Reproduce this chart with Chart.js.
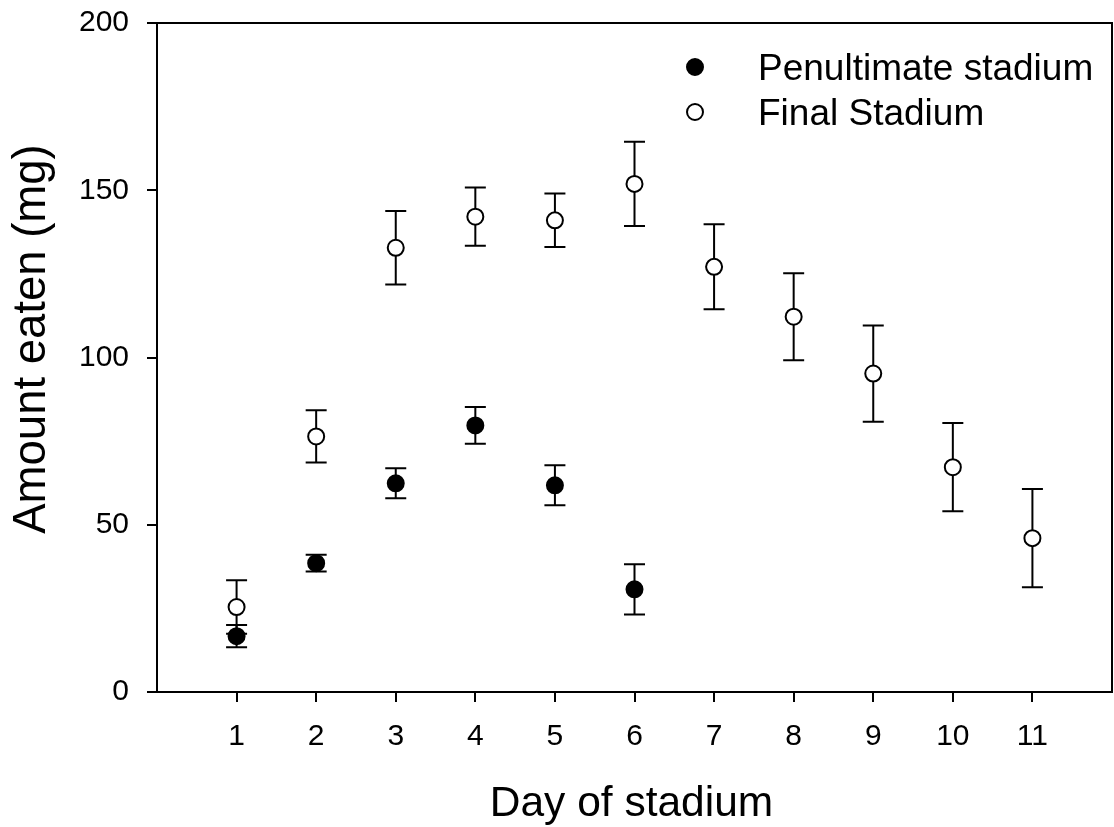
<!DOCTYPE html>
<html>
<head>
<meta charset="utf-8">
<script src="https://cdn.jsdelivr.net/npm/chart.js@4/dist/chart.umd.min.js"></script>
<style>
  body { margin: 0; background: #fff; }
</style>
</head>
<body>
<canvas id="myChart" width="1114" height="827"></canvas>
<script>
const days = [1, 2, 3, 4, 5, 6, 7, 8, 9, 10, 11];
const penultimateMean = [16.7, 38.5, 62.4, 79.7, 61.8, 30.7];
const penultimateSE = [3.3, 2.5, 4.5, 5.5, 6.0, 7.5];
const finalMean = [25.4, 76.4, 132.8, 142.1, 141.0, 151.9, 127.1, 112.2, 95.2, 67.2, 46.0];
const finalSE = [8.0, 7.8, 11.0, 8.7, 8.0, 12.6, 12.7, 13.0, 14.4, 13.2, 14.7];
const yTicks = [0, 50, 100, 150, 200];
const xTitle = "Day of stadium";
const yTitle = "Amount eaten (mg)";

const FONT = "'Liberation Sans', Arial, sans-serif";
Chart.defaults.font.family = FONT;
Chart.defaults.color = "#000";

const toPoints = (means) => means.map((v, i) => ({ x: days[i], y: v }));

// error bars under the markers
const errorBars = {
  id: "errorBars",
  beforeDatasetsDraw(chart) {
    const ctx = chart.ctx;
    const yScale = chart.scales.y;
    ctx.save();
    ctx.strokeStyle = "#000";
    ctx.lineWidth = 2;
    chart.data.datasets.forEach((ds, di) => {
      const meta = chart.getDatasetMeta(di);
      meta.data.forEach((pt, i) => {
        const v = ds.data[i].y;
        const top = yScale.getPixelForValue(v + ds.se[i]);
        const bot = yScale.getPixelForValue(v - ds.se[i]);
        ctx.beginPath();
        ctx.moveTo(pt.x, top);
        ctx.lineTo(pt.x, bot);
        ctx.moveTo(pt.x - 10.5, top);
        ctx.lineTo(pt.x + 10.5, top);
        ctx.moveTo(pt.x - 10.5, bot);
        ctx.lineTo(pt.x + 10.5, bot);
        ctx.stroke();
      });
    });
    ctx.restore();
  },
};

// frame, axis titles and the legend inside the plot
const frameAndLegend = {
  id: "frameAndLegend",
  afterDraw(chart) {
    const ctx = chart.ctx;
    const a = chart.chartArea;
    ctx.save();
    ctx.strokeStyle = "#000";
    ctx.lineWidth = 2;
    ctx.strokeRect(a.left, a.top, a.right - a.left, a.bottom - a.top);

    ctx.fillStyle = "#000";
    ctx.textAlign = "center";
    ctx.textBaseline = "alphabetic";
    ctx.font = "42.5px " + FONT;
    ctx.fillText(xTitle, 631.5, 816);

    ctx.save();
    ctx.translate(45, 339);
    ctx.rotate(-Math.PI / 2);
    ctx.font = "45.5px " + FONT;
    ctx.fillText(yTitle, 0, 0);
    ctx.restore();

    ctx.font = "37px " + FONT;
    ctx.textAlign = "left";
    chart.data.datasets.forEach((ds, i) => {
      const y = 67 + i * 45;
      ctx.beginPath();
      ctx.arc(695, y, 8, 0, Math.PI * 2);
      ctx.fillStyle = ds.backgroundColor;
      ctx.fill();
      ctx.stroke();
      ctx.fillStyle = "#000";
      ctx.fillText(ds.label, 758, y + 13);
    });
    ctx.restore();
  },
};

new Chart(document.getElementById("myChart"), {
  type: "scatter",
  data: {
    datasets: [
      {
        label: "Penultimate stadium",
        data: toPoints(penultimateMean),
        se: penultimateSE,
        backgroundColor: "#000",
        borderColor: "#000",
        borderWidth: 2,
        pointRadius: 8,
      },
      {
        label: "Final Stadium",
        data: toPoints(finalMean),
        se: finalSE,
        backgroundColor: "#fff",
        borderColor: "#000",
        borderWidth: 2,
        pointRadius: 8,
      },
    ],
  },
  options: {
    responsive: false,
    animation: false,
    layout: { autoPadding: false, padding: { top: 23, right: 2, left: 0, bottom: 0 } },
    plugins: {
      legend: { display: false },
      tooltip: { enabled: false },
    },
    scales: {
      x: {
        type: "linear",
        min: 0,
        max: 12,
        afterBuildTicks: (s) => {
          s.ticks = days.map((d) => ({ value: d }));
        },
        afterFit: (s) => {
          s.height = 135;
          s.paddingLeft = 0;
          s.paddingRight = 0;
        },
        grid: { drawOnChartArea: false, drawTicks: true, tickLength: 10, color: "#000", lineWidth: 2 },
        border: { display: true, color: "#000", width: 2 },
        ticks: { font: { size: 30 }, padding: 17, color: "#000" },
      },
      y: {
        min: 0,
        max: 200,
        afterBuildTicks: (s) => {
          s.ticks = yTicks.map((v) => ({ value: v }));
        },
        afterFit: (s) => {
          s.width = 157;
          s.paddingTop = 0;
          s.paddingBottom = 0;
        },
        grid: { drawOnChartArea: false, drawTicks: true, tickLength: 10, color: "#000", lineWidth: 2 },
        border: { display: true, color: "#000", width: 2 },
        ticks: { font: { size: 30 }, padding: 18, color: "#000" },
      },
    },
  },
  plugins: [errorBars, frameAndLegend],
});
</script>
</body>
</html>
